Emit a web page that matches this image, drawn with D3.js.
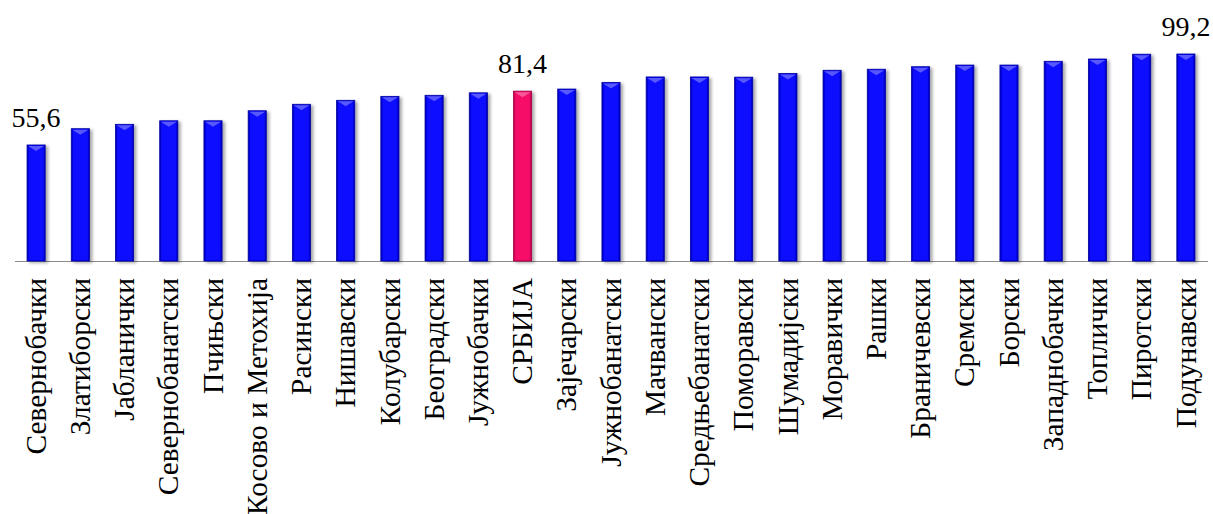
<!DOCTYPE html>
<html>
<head>
<meta charset="utf-8">
<script src="https://cdn.jsdelivr.net/npm/d3@7"></script>
<style>
  html, body { margin: 0; padding: 0; background: #ffffff; }
  svg { display: block; }
</style>
</head>
<body>
<svg id="chart" width="1213" height="514"></svg>
<script>
// Districts, sorted ascending by value; СРБИЈА is the national average
const districts = [
  "Севернобачки", "Златиборски", "Јабланички", "Севернобанатски", "Пчињски",
  "Косово и Метохија", "Расински", "Нишавски", "Колубарски", "Београдски",
  "Јужнобачки", "СРБИЈА", "Зајечарски", "Јужнобанатски", "Мачвански",
  "Средњебанатски", "Поморавски", "Шумадијски", "Моравички", "Рашки",
  "Браничевски", "Сремски", "Борски", "Западнобачки", "Топлички",
  "Пиротски", "Подунавски"
];
const values = [
  55.6, 63.4, 65.5, 67.2, 67.2,
  72.0, 75.1, 77.0, 78.9, 79.4,
  80.6, 81.4, 82.4, 85.6, 88.2,
  88.2, 88.1, 89.9, 91.4, 91.9,
  93.1, 93.9, 93.9, 95.7, 96.8,
  99.1, 99.2
];
// Bars that carry a value label above them
const labelled = ["Севернобачки", "СРБИЈА", "Подунавски"];
const highlight = "СРБИЈА";

const FONT = "'Liberation Serif', 'Times New Roman'";

const data = districts.map((d, i) => ({ name: d, value: values[i] }));

const svg = d3.select("#chart");
const baseY = 261;

const x = d3.scaleBand()
  .domain(districts)
  .range([14, 1208])
  .paddingInner(0.59)
  .paddingOuter(0.295);

const y = d3.scaleLinear()
  .domain([0, 99.2])
  .range([baseY, 54]);

const defs = svg.append("defs");

const shadow = defs.append("filter")
  .attr("id", "barShadow")
  .attr("x", "-50%").attr("y", "-10%")
  .attr("width", "200%").attr("height", "130%");
shadow.append("feDropShadow")
  .attr("dx", 2.5).attr("dy", 1.5)
  .attr("stdDeviation", 1.6)
  .attr("flood-color", "#000")
  .attr("flood-opacity", 0.35);

function sideGradient(id, edge, mid) {
  const g = defs.append("linearGradient").attr("id", id)
    .attr("x1", "0").attr("x2", "1").attr("y1", "0").attr("y2", "0");
  g.append("stop").attr("offset", "0%").attr("stop-color", edge);
  g.append("stop").attr("offset", "14%").attr("stop-color", mid);
  g.append("stop").attr("offset", "86%").attr("stop-color", mid);
  g.append("stop").attr("offset", "100%").attr("stop-color", edge);
}
sideGradient("blueFill", "#0000b8", "#0a0aff");
sideGradient("pinkFill", "#b8004a", "#f50a68");

// Axis baseline
svg.append("line")
  .attr("x1", 15).attr("x2", 1208)
  .attr("y1", baseY + 0.5).attr("y2", baseY + 0.5)
  .attr("stroke", "#8c8c8c")
  .attr("stroke-width", 1.2);

const bars = svg.append("g").selectAll("g.bar")
  .data(data)
  .join("g")
  .attr("class", "bar")
  .attr("filter", "url(#barShadow)");

bars.append("rect")
  .attr("x", d => x(d.name))
  .attr("y", d => y(d.value))
  .attr("width", x.bandwidth())
  .attr("height", d => baseY - y(d.value))
  .attr("fill", d => d.name === highlight ? "url(#pinkFill)" : "url(#blueFill)")
  .attr("stroke", d => d.name === highlight ? "#a00040" : "#0000a0")
  .attr("stroke-width", 0.8);

// Bevel highlight on the top of each bar
bars.append("path")
  .attr("d", d => {
    const x0 = x(d.name), w = x.bandwidth(), t = y(d.value);
    return `M${x0 + 1},${t + 1} L${x0 + w - 1},${t + 1} L${x0 + w / 2},${t + 6} Z`;
  })
  .attr("fill", "#ffffff")
  .attr("fill-opacity", 0.32);

// Value labels
svg.append("g").selectAll("text")
  .data(data.filter(d => labelled.includes(d.name)))
  .join("text")
  .attr("x", d => x(d.name) + x.bandwidth() / 2)
  .attr("y", d => y(d.value) - 18)
  .attr("text-anchor", "middle")
  .style("font-family", FONT)
  .style("font-size", "28px")
  .attr("fill", "#000")
  .text(d => d.value.toFixed(1).replace(".", ","));

// Category labels, rotated
svg.append("g").selectAll("text")
  .data(data)
  .join("text")
  .attr("transform", d => `translate(${x(d.name) + x.bandwidth() / 2},278) rotate(-90)`)
  .attr("text-anchor", "end")
  .attr("dy", "0.33em")
  .style("font-family", FONT)
  .style("font-size", "29.4px")
  .attr("fill", "#000")
  .text(d => d.name);
</script>
</body>
</html>
